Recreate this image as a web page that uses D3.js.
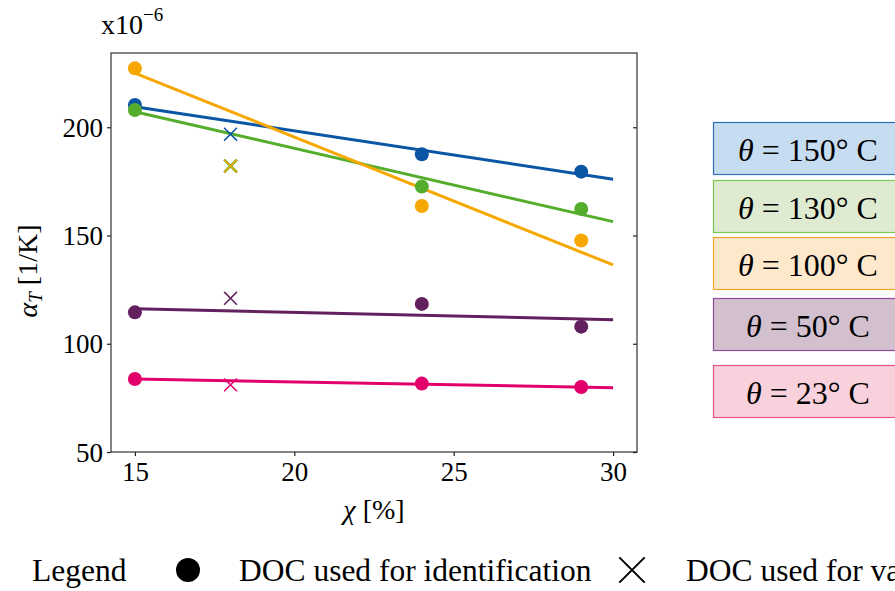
<!DOCTYPE html>
<html>
<head>
<meta charset="utf-8">
<script src="https://cdn.jsdelivr.net/npm/d3@7"></script>
<style>
  html, body { margin: 0; padding: 0; background: #fff; }
  svg { display: block; }
  text { font-family: "Liberation Serif", "Times New Roman", serif; fill: #000; }
</style>
</head>
<body>
<svg id="chart" width="895" height="591"></svg>
<script>
// Thermal expansion coefficient vs. degree of cure, one series per temperature
const temperatures = ["150", "130", "100", "50", "23"];
const seriesColors = ["#0a56a5", "#55ad2c", "#f6a800", "#62205e", "#e2006b"];
const boxFills     = ["#c6dcf0", "#dfebd1", "#fde8cb", "#d3c0cf", "#f9d1dc"];
const boxStrokes   = ["#2c70b8", "#7cc652", "#f2a52a", "#8f4b99", "#e2548b"];

// DOC points used for identification
const idChi = [15, 24, 29];
const id150 = [210.3, 187.5, 179.5];
const id130 = [208.0, 172.6, 162.3];
const id100 = [227.2, 163.6, 147.7];
const id50  = [114.5, 118.4, 107.9];
const id23  = [83.7, 81.6, 80.0];

// DOC points used for validation
const valChi = 18;
const val150 = 196.8;
const val130 = 182.1;
const val100 = 182.1;
const val50  = 121.0;
const val23  = 81.0;

// Linear fits, evaluated at the ends of the range
const fitChi = [15, 30];
const fit150 = [209.5, 176.0];
const fit130 = [207.2, 156.4];
const fit100 = [225.0, 136.4];
const fit50  = [116.2, 111.1];
const fit23  = [83.7, 79.7];

const xTicks = [15, 20, 25, 30];
const yTicks = [50, 100, 150, 200];

const idSets  = [id150, id130, id100, id50, id23];
const valSets = [val150, val130, val100, val50, val23];
const fitSets = [fit150, fit130, fit100, fit50, fit23];

const svg = d3.select("#chart");
const L = 111, R = 637, T = 53, B = 452;

const x = d3.scaleLinear().domain([14.25, 30.75]).range([L, R]);
const y = d3.scaleLinear().domain([50, 234.3]).range([B, T]);

// frame
svg.append("rect")
  .attr("x", L).attr("y", T).attr("width", R - L).attr("height", B - T)
  .attr("fill", "none").attr("stroke", "#333").attr("stroke-width", 1.2);

// axes
const fmt = d3.format("d");
const xAxis = svg.append("g").attr("transform", `translate(0,${B})`)
  .call(d3.axisBottom(x).tickValues(xTicks).tickFormat(fmt).tickSize(4).tickPadding(6));
const yAxis = svg.append("g").attr("transform", `translate(${L},0)`)
  .call(d3.axisLeft(y).tickValues(yTicks).tickFormat(fmt).tickSize(4).tickPadding(4));
const yAxisR = svg.append("g").attr("transform", `translate(${R},0)`)
  .call(d3.axisLeft(y).tickValues(yTicks).tickFormat("").tickSize(4));
[xAxis, yAxis, yAxisR].forEach(g => {
  g.select(".domain").remove();
  g.selectAll(".tick line").attr("stroke", "#222").attr("stroke-width", 1.2);
  g.selectAll(".tick text")
    .attr("font-family", "Liberation Serif, serif")
    .attr("font-size", 27).attr("fill", "#000");
});
yAxis.selectAll(".tick text").attr("dy", "0.34em");

// fit lines
temperatures.forEach((t, i) => {
  const pts = fitChi.map((c, k) => [c, fitSets[i][k]]);
  svg.append("path")
    .attr("d", d3.line().x(d => x(d[0])).y(d => y(d[1]))(pts))
    .attr("fill", "none").attr("stroke", seriesColors[i]).attr("stroke-width", 3);
});

// identification points
temperatures.forEach((t, i) => {
  svg.append("g").selectAll("circle")
    .data(idChi.map((c, k) => [c, idSets[i][k]]))
    .join("circle")
    .attr("cx", d => x(d[0])).attr("cy", d => y(d[1])).attr("r", 7)
    .attr("fill", seriesColors[i]);
});

// validation points (130 and 100 coincide, so the 130 cross is drawn a bit wider underneath)
const cross = d3.symbol().type(d3.symbolX).size(110);
const crossOrder = [0, 1, 2, 3, 4];
crossOrder.forEach(i => {
  svg.append("path")
    .attr("d", cross())
    .attr("transform", `translate(${x(valChi)},${y(valSets[i])})`)
    .attr("fill", "none").attr("stroke", seriesColors[i])
    .attr("stroke-width", i === 1 ? 2.6 : 1.5);
});

// scale factor
const sf = svg.append("text").attr("x", 101).attr("y", 34).attr("font-size", 28);
sf.append("tspan").text("x10");
sf.append("tspan").attr("font-size", 19).attr("dy", -13).text("−6");

// axis titles
const yl = svg.append("text")
  .attr("transform", `translate(37,271) rotate(-90)`)
  .attr("text-anchor", "middle").attr("font-size", 28);
yl.append("tspan").attr("font-style", "italic").text("α");
yl.append("tspan").attr("font-style", "italic").attr("font-size", 19).attr("dy", 5).text("T");
yl.append("tspan").attr("dy", -5).text(" [1/K]");

const xl = svg.append("text")
  .attr("x", 374).attr("y", 519).attr("text-anchor", "middle").attr("font-size", 28);
xl.append("tspan").attr("font-style", "italic").text("χ");
xl.append("tspan").text(" [%]");

// temperature boxes
const boxTops = [122, 180, 237, 298, 365];
temperatures.forEach((t, i) => {
  const g = svg.append("g");
  g.append("rect")
    .attr("x", 713.5).attr("y", boxTops[i] + 0.5).attr("width", 200).attr("height", 52)
    .attr("fill", boxFills[i]).attr("stroke", boxStrokes[i]).attr("stroke-width", 1.2);
  const tx = g.append("text")
    .attr("x", 808).attr("y", boxTops[i] + 39)
    .attr("text-anchor", "middle").attr("font-size", 32);
  tx.append("tspan").attr("font-style", "italic").text("θ");
  tx.append("tspan").text(` = ${t}° C`);
});

// bottom legend
svg.append("text").attr("x", 32).attr("y", 581).attr("font-size", 31.5).text("Legend");
svg.append("circle").attr("cx", 188).attr("cy", 570).attr("r", 12).attr("fill", "#000");
svg.append("text").attr("x", 239).attr("y", 581).attr("font-size", 31.5).text("DOC used for identification");
svg.append("path")
  .attr("d", d3.symbol().type(d3.symbolX).size(420)())
  .attr("transform", "translate(632,570)")
  .attr("fill", "none").attr("stroke", "#000").attr("stroke-width", 2);
svg.append("text").attr("x", 686).attr("y", 581).attr("font-size", 31.5).text("DOC used for validation");
</script>
</body>
</html>
